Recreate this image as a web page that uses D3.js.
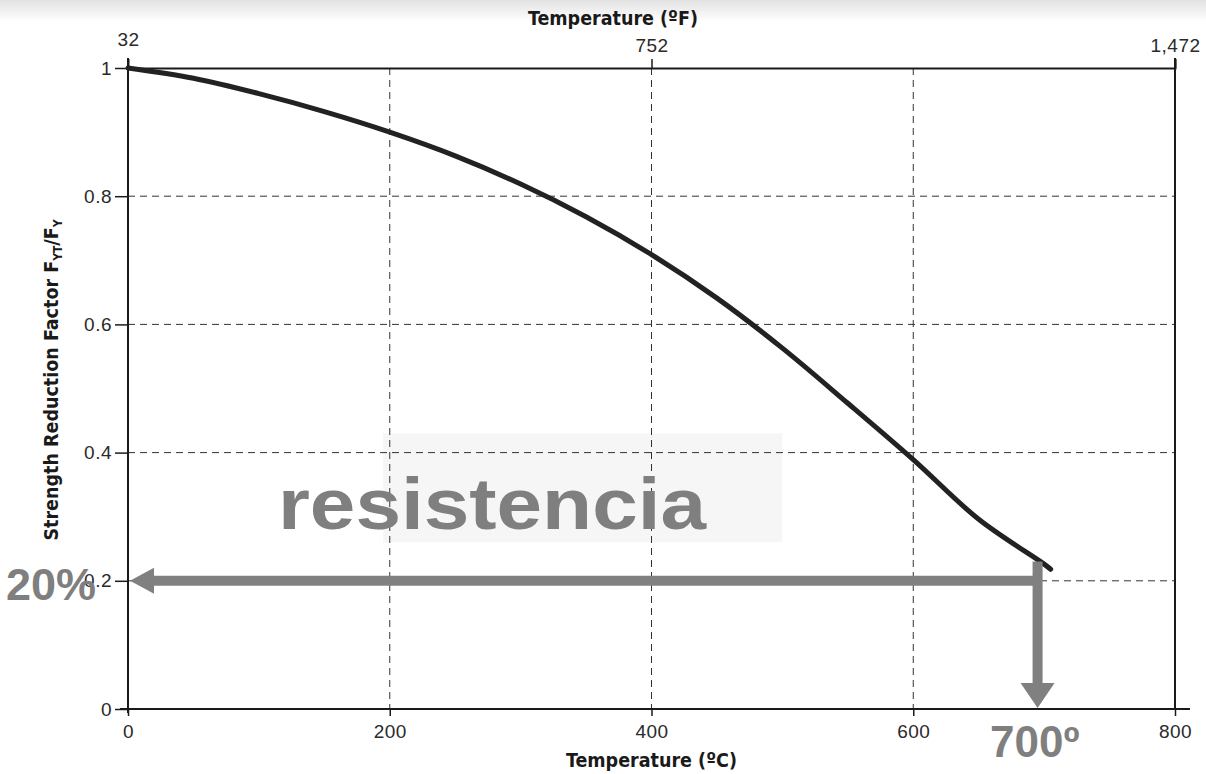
<!DOCTYPE html>
<html>
<head>
<meta charset="utf-8">
<script src="https://cdn.jsdelivr.net/npm/d3@7"></script>
<style>
    body { margin: 0; background: #fff; }
    .tick text { font-family: "Liberation Sans", Arial, sans-serif; font-size: 19px; letter-spacing: 0.5px; fill: #2a2a2a; }
    .title { font-family: "Liberation Sans Narrow", "DejaVu Sans Condensed", sans-serif; font-weight: bold; font-size: 19.5px; fill: #1a1a1a; }
    .note { font-family: "Liberation Sans", Arial, sans-serif; font-weight: bold; fill: #7f7f7f; }
</style>
</head>
<body>
<svg width="1206" height="774"></svg>
<script>
// temperature in C, strength reduction factor
var tempC = [0, 50, 100, 150, 200, 250, 300, 350, 400, 450, 500, 550, 600, 650, 700, 705];
var factor = [1.0, 0.984, 0.96, 0.932, 0.90, 0.863, 0.819, 0.768, 0.709, 0.641, 0.563, 0.477, 0.389, 0.296, 0.226, 0.218];

var xTicks = [0, 200, 400, 600, 800];
var yTicks = [0, 0.2, 0.4, 0.6, 0.8, 1];
var fTicks = [32, 752, 1472];

// annotation
var markTemp = 695;
var markTop = 0.23;
var markFactor = 0.2;
var markLabelPct = "20%";
var markLabelTemp = "700º";
var bigLabel = "resistencia";

var svg = d3.select("svg");

var x = d3.scaleLinear().domain([0, 800]).range([128, 1175]);
var xF = d3.scaleLinear().domain([32, 1472]).range([128, 1175]);
var y = d3.scaleLinear().domain([0, 1]).range([709, 68]);

// scan shade at top
var defs = svg.append("defs");
var grad = defs.append("linearGradient").attr("id", "shade")
    .attr("x1", 0).attr("y1", 0).attr("x2", 0).attr("y2", 1);
grad.append("stop").attr("offset", "0%").attr("stop-color", "#e2e2e2");
grad.append("stop").attr("offset", "100%").attr("stop-color", "#fff");
svg.append("rect").attr("x", 0).attr("y", 0).attr("width", 1206).attr("height", 22)
    .attr("fill", "url(#shade)");

// faint box behind the label
svg.append("rect")
    .attr("x", x(195)).attr("y", y(0.43))
    .attr("width", x(500) - x(195)).attr("height", y(0.26) - y(0.43))
    .attr("fill", "#f6f6f6");

// grid
svg.append("g").selectAll("line").data(xTicks.slice(1, 4)).enter().append("line")
    .attr("x1", function (d) { return x(d); }).attr("x2", function (d) { return x(d); })
    .attr("y1", y(1)).attr("y2", y(0))
    .attr("stroke", "#333").attr("stroke-width", 1).attr("stroke-dasharray", "7,5");
svg.append("g").selectAll("line").data(yTicks.slice(1, 5)).enter().append("line")
    .attr("y1", function (d) { return y(d); }).attr("y2", function (d) { return y(d); })
    .attr("x1", x(0)).attr("x2", x(800))
    .attr("stroke", "#333").attr("stroke-width", 1).attr("stroke-dasharray", "7,5");

// axes
var bottomAxis = svg.append("g").attr("transform", "translate(0," + y(0) + ")")
    .call(d3.axisBottom(x).tickValues(xTicks).tickSize(7).tickPadding(9).tickFormat(d3.format("d")));
var leftAxis = svg.append("g").attr("transform", "translate(" + x(0) + ",0)")
    .call(d3.axisLeft(y).tickValues(yTicks).tickSize(13).tickPadding(3).tickFormat(function (d) { return d === 0 || d === 1 ? d : d3.format(".1f")(d); }));
var topAxis = svg.append("g").attr("transform", "translate(0," + y(1) + ")")
    .call(d3.axisTop(xF).tickValues(fTicks).tickSize(9).tickPadding(7).tickFormat(d3.format(",")));
var rightAxis = svg.append("g").attr("transform", "translate(" + x(800) + ",0)")
    .call(d3.axisRight(y).tickValues([]).tickSizeOuter(0));

[bottomAxis, leftAxis, topAxis, rightAxis].forEach(function (g) {
    g.select(".domain").attr("stroke", "#1a1a1a").attr("stroke-width", 2);
    g.selectAll(".tick line").attr("stroke", "#1a1a1a").attr("stroke-width", 1.5);
});
bottomAxis.select(".domain").attr("d", "M" + (x(0) - 8) + ",0H" + (x(800) + 15));
leftAxis.select(".domain").attr("d", "M0," + (y(1) - 10) + "V" + (y(0) + 4));
rightAxis.select(".domain").attr("d", "M0," + (y(1) - 10) + "V" + (y(0)));
topAxis.select(".tick line").remove();
topAxis.select(".tick text").attr("dy", "-0.3em");

// titles
svg.append("text").attr("class", "title")
    .attr("x", 613).attr("y", 25).attr("text-anchor", "middle")
    .text("Temperature (ºF)");
svg.append("text").attr("class", "title")
    .attr("x", x(400)).attr("y", 767).attr("text-anchor", "middle")
    .text("Temperature (ºC)");
var yt = svg.append("text").attr("class", "title")
    .attr("transform", "translate(58,380) rotate(-90)").attr("text-anchor", "middle");
yt.append("tspan").text("Strength Reduction Factor F");
yt.append("tspan").attr("font-size", "12px").attr("dy", 4).text("YT");
yt.append("tspan").attr("dy", -4).text("/F");
yt.append("tspan").attr("font-size", "12px").attr("dy", 4).text("Y");

// curve
var pts = tempC.map(function (t, i) { return [t, factor[i]]; });
svg.append("path").datum(pts)
    .attr("fill", "none").attr("stroke", "#222").attr("stroke-width", 5)
    .attr("stroke-linecap", "round")
    .attr("d", d3.line().curve(d3.curveCatmullRom)
        .x(function (d) { return x(d[0]); })
        .y(function (d) { return y(d[1]); }));

// annotation arrows
var gray = "#808080";
var ax = x(markTemp), ay = y(markFactor);
svg.append("line")
    .attr("x1", ax + 4).attr("x2", x(0) + 22).attr("y1", ay).attr("y2", ay)
    .attr("stroke", gray).attr("stroke-width", 10);
svg.append("path")
    .attr("d", "M" + (x(0) + 2) + "," + ay + "L" + (x(0) + 26) + "," + (ay - 13) + "L" + (x(0) + 26) + "," + (ay + 13) + "Z")
    .attr("fill", gray);
svg.append("line")
    .attr("x1", ax).attr("x2", ax).attr("y1", y(markTop)).attr("y2", y(0) - 24)
    .attr("stroke", gray).attr("stroke-width", 10);
svg.append("path")
    .attr("d", "M" + ax + "," + (y(0) - 1) + "L" + (ax - 17) + "," + (y(0) - 26) + "L" + (ax + 17) + "," + (y(0) - 26) + "Z")
    .attr("fill", gray);

svg.append("text").attr("class", "note").attr("font-size", "45px")
    .attr("x", 6).attr("y", 600).text(markLabelPct);
svg.append("text").attr("class", "note").attr("font-size", "44px")
    .attr("x", 990).attr("y", 757).text(markLabelTemp);
svg.append("text").attr("class", "note").attr("font-size", "72px")
    .attr("x", 278).attr("y", 529).attr("textLength", 428).attr("lengthAdjust", "spacingAndGlyphs")
    .text(bigLabel);
</script>
</body>
</html>
